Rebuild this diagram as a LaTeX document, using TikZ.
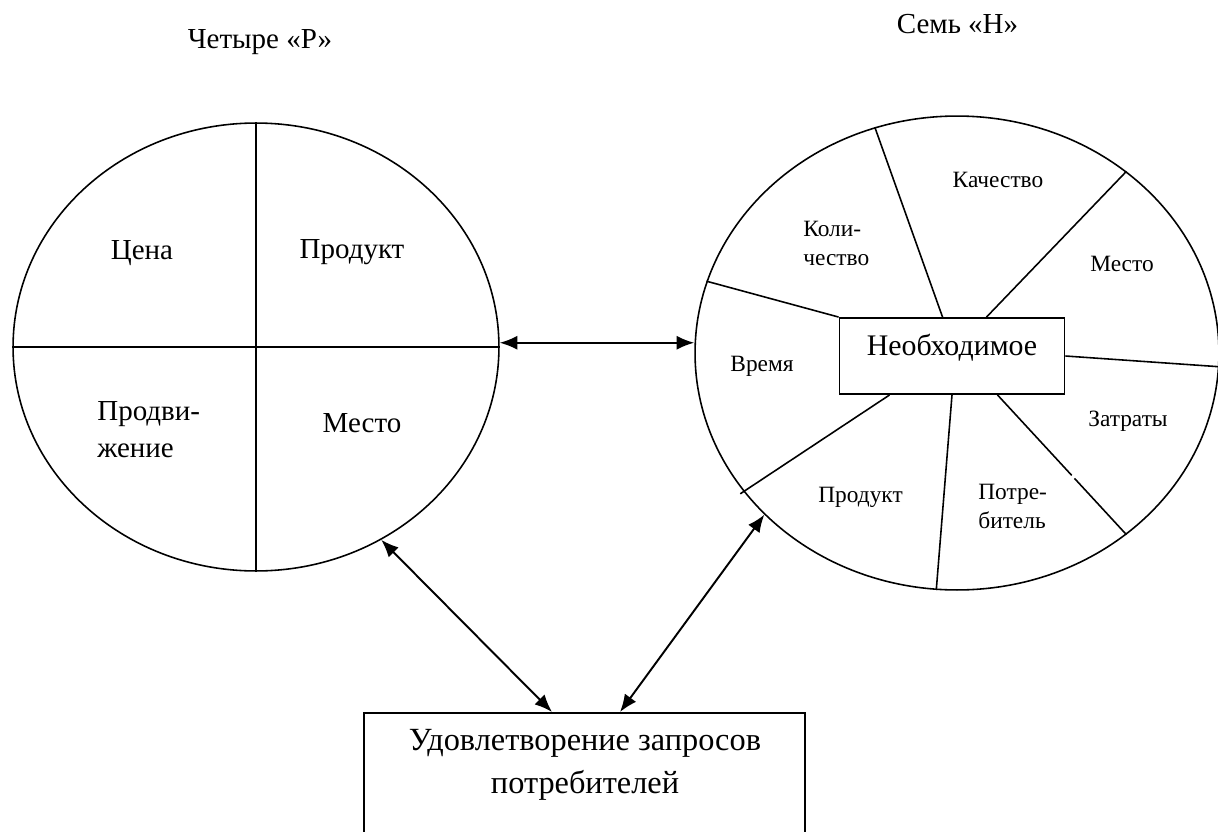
\documentclass[tikz,border=0pt]{standalone}
\usepackage{fontspec}
\setmainfont{Liberation Serif}
\usetikzlibrary{shapes.geometric,arrows.meta}

\begin{document}
\begin{tikzpicture}[
    x=0.02cm, y=-0.02cm,
    wheel/.style={ellipse, draw, line width=0.9pt, inner sep=0pt},
    bigtext/.style={inner sep=0pt, align=left, font=\fontsize{16.5}{21}\selectfont},
    smalltext/.style={inner sep=0pt, align=left, font=\fontsize{13.3}{16}\selectfont},
    spoke/.style={line width=0.9pt},
    needbox/.style={draw, line width=1.1pt, inner sep=0pt, minimum width=4.5cm,
        text height=0.74cm, text depth=0.78cm, font=\fontsize{17}{20}\selectfont},
    goalbox/.style={draw, line width=1.1pt, minimum width=8.82cm, minimum height=3cm},
    goaltext/.style={inner sep=0pt, align=center, font=\fontsize{18.4}{24}\selectfont},
    arrow/.style={{Latex[length=10pt,width=8pt]}-{Latex[length=10pt,width=8pt]}, line width=1.1pt}
]
\clip (0,0) rectangle (1218,832);

% Titles
\node[bigtext, anchor=base] (t4p) at (260, 48) {Четыре «Р»};
\node[bigtext, anchor=base] (t7n) at (957.5, 33) {Семь «Н»};

% Four P wheel
\node[wheel, minimum width=9.72cm, minimum height=8.96cm] (lp) at (256, 347) {};
\draw[spoke] (lp.north) -- (lp.south);
\draw[spoke] (lp.west) -- (lp.east);

\node[bigtext, anchor=base] (price) at (142, 259) {Цена};
\node[bigtext, anchor=base] (prod) at (352, 258) {Продукт};
\node[bigtext, anchor=base west] (promo) at (97, 457) {Продви-\\жение};
\node[bigtext, anchor=base] (place) at (362, 432) {Место};

% Seven N wheel
\node[wheel, minimum width=10.48cm, minimum height=9.48cm] (np) at (957, 353) {};
\node[needbox, anchor=base] (need) at (952, 355) {Необходимое};

% Spokes from the box to the rim
\draw[spoke] (need.north west) -- (np.164);
\draw[spoke] ([xshift=2.08cm]need.north west) -- (np.110);
\draw[spoke] ([xshift=2.96cm]need.north west) -- (np.47);
\draw[spoke] (need.east) -- (np.-3);
\draw[spoke, dash pattern=on 2.19cm off 0.08cm on 5cm] ([xshift=3.18cm]need.south west) -- (np.-47);
\draw[spoke] (need.south) -- (np.-95);
\draw[spoke, shorten >=-0.08cm] ([xshift=1.02cm]need.south west) -- (np.213.5);

\node[smalltext, anchor=base] (qual) at (998, 187) {Качество};
\node[smalltext, anchor=base west] (qty) at (803, 265) {Коли-\\чество};
\node[smalltext, anchor=base] (place2) at (1122, 271) {Место};
\node[smalltext, anchor=base] (time) at (762, 371) {Время};
\node[smalltext, anchor=base] (cost) at (1128, 426) {Затраты};
\node[smalltext, anchor=base] (prod2) at (860.5, 502) {Продукт};
\node[smalltext, anchor=base west] (cons) at (978, 528) {Потре-\\битель};

% Goal box
\node[goalbox, anchor=north] (goal) at (584.5, 712) {};
\node[goaltext, anchor=base] (goaltxt) at (585, 793) {Удовлетворение запросов\\потребителей};

% Connections
\draw[arrow] (lp.1) -- (lp.1 -| np.west);
\draw[arrow] (lp.-57) -- ([xshift=3.78cm]goal.north west);
\draw[arrow] (np.220) -- ([xshift=5.14cm]goal.north west);

\end{tikzpicture}
\end{document}
